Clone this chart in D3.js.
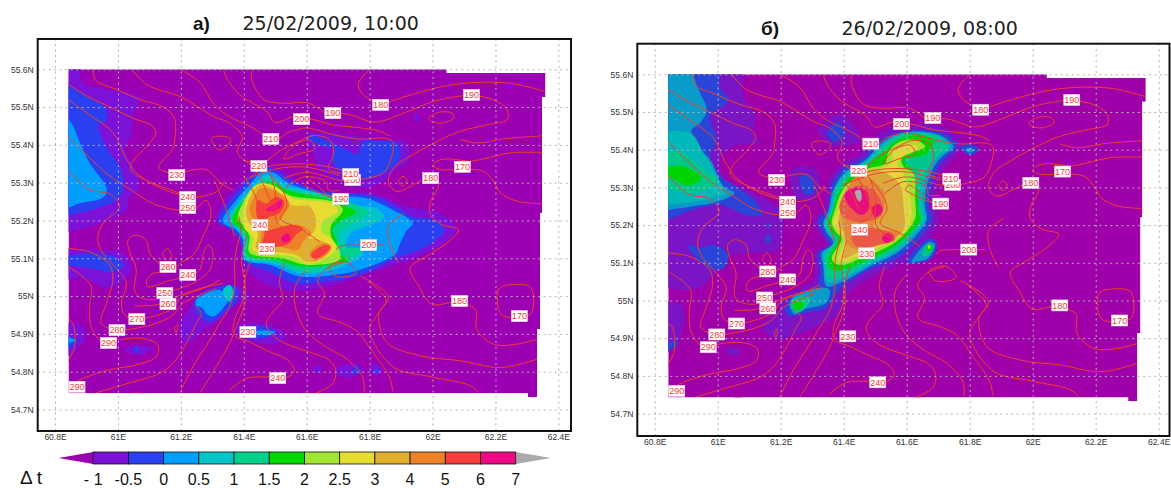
<!DOCTYPE html>
<html>
<head>
<meta charset="utf-8">
<script src="https://cdn.jsdelivr.net/npm/d3@7"></script>
<style>
    html, body { margin: 0; padding: 0; background: #fff; }
    svg { display: block; }
</style>
</head>
<body>
<svg id="chart" width="1171" height="488"></svg>
<script>
// axis ticks
const lonTicks = [60.8, 61, 61.2, 61.4, 61.6, 61.8, 62, 62.2, 62.4];
const lonTickLabels = ["60.8E", "61E", "61.2E", "61.4E", "61.6E", "61.8E", "62E", "62.2E", "62.4E"];
const latTicks = [54.7, 54.8, 54.9, 55, 55.1, 55.2, 55.3, 55.4, 55.5, 55.6];
const latTickLabels = ["54.7N", "54.8N", "54.9N", "55N", "55.1N", "55.2N", "55.3N", "55.4N", "55.5N", "55.6N"];

// colour bar
const barLabels = ["- 1", "-0.5", "0", "0.5", "1", "1.5", "2", "2.5", "3", "4", "5", "6", "7"];

// edge of the model domain, lon/lat
const mapOutline = [[60.843, 55.6], [62.045, 55.6], [62.045, 55.59], [62.359, 55.59], [62.359, 55.527], [62.348, 55.527],
    [62.348, 55.22], [62.342, 55.22], [62.342, 54.913], [62.332, 54.913], [62.332, 54.733], [62.303, 54.733],
    [62.303, 54.743], [60.843, 54.743]];

// delta-t areas, 25/02/2009 10:00. l = index of the class, 0 is -1..-0.5, 12 is above 7
const fieldA = [
    { l: 0, p: [[60.8, 55.65], [60.88, 55.65], [60.885, 55.567], [60.943, 55.55], [61.028, 55.537], [61.07, 55.523], [61.05, 55.484], [61.044, 55.431], [61.023, 55.387], [61.065, 55.317], [61.06, 55.277], [61.037, 55.262], [61.026, 55.227], [60.93, 55.19], [60.84, 55.17], [60.8, 55.17]] },
    { l: 1, p: [[60.8, 55.59], [60.843, 55.559], [60.9, 55.528], [60.964, 55.493], [60.959, 55.462], [60.938, 55.453], [60.943, 55.431], [60.975, 55.378], [61.007, 55.343], [61.017, 55.303], [61.016, 55.28], [60.995, 55.254], [60.931, 55.232], [60.84, 55.214], [60.8, 55.21]] },
    { l: 2, p: [[60.8, 55.47], [60.843, 55.466], [60.88, 55.405], [60.91, 55.352], [60.964, 55.285], [60.955, 55.262], [60.878, 55.245], [60.8, 55.23]] },
    { l: 0, p: [[60.8, 55.13], [60.84, 55.126], [60.94, 55.122], [61.016, 55.113], [61.042, 55.069], [60.973, 55.02], [60.92, 55.038], [60.878, 55.047], [60.8, 55.047]] },
    { l: 1, p: [[60.8, 55.11], [60.84, 55.108], [60.93, 55.113], [61.0, 55.1], [61.016, 55.078], [60.984, 55.064], [60.92, 55.073], [60.84, 55.082], [60.8, 55.082]] },
    { l: 0, p: [[60.8, 54.93], [60.84, 54.93], [60.885, 54.92], [60.895, 54.885], [60.87, 54.86], [60.84, 54.842], [60.8, 54.84]] },
    { l: 1, p: [[60.8, 54.895], [60.84, 54.893], [60.873, 54.884], [60.86, 54.87], [60.84, 54.86], [60.8, 54.86]] },
    { l: 2, p: [[60.8, 54.893], [60.84, 54.891], [60.865, 54.883], [60.84, 54.875], [60.8, 54.875]] },
    { l: 0, p: [[61.02, 54.858], [61.058, 54.87], [61.106, 54.862], [61.07, 54.844]] },
    { l: 1, p: [[61.05, 54.858], [61.058, 54.866], [61.066, 54.858], [61.058, 54.848]] },
    // blob south-west of the plume
    { l: 0, p: [[61.196, 54.919], [61.239, 54.981], [61.26, 55.007], [61.323, 55.029], [61.387, 55.025], [61.419, 54.998], [61.366, 54.972], [61.323, 54.937], [61.27, 54.91], [61.217, 54.875]] },
    { l: 1, p: [[61.244, 54.99], [61.323, 55.025], [61.376, 55.025], [61.376, 54.985], [61.334, 54.954], [61.29, 54.932], [61.26, 54.946], [61.244, 54.968]] },
    { l: 2, p: [[61.249, 54.99], [61.323, 55.016], [61.35, 54.994], [61.334, 54.968], [61.302, 54.946], [61.28, 54.954], [61.27, 54.968], [61.249, 54.976]] },
    { l: 3, p: [[61.334, 55.016], [61.355, 55.029], [61.37, 55.007], [61.355, 54.985], [61.34, 54.998]] },
    // spot under the 230 label
    { l: 0, p: [[61.376, 54.918], [61.47, 54.927], [61.535, 54.896], [61.503, 54.874], [61.407, 54.887]] },
    { l: 1, p: [[61.386, 54.909], [61.46, 54.92], [61.5, 54.905], [61.47, 54.89], [61.407, 54.892]] },
    { l: 2, p: [[61.43, 54.905], [61.46, 54.909], [61.5, 54.905], [61.475, 54.896]] },
    { l: 0, p: [[61.62, 54.808], [61.635, 54.818], [61.65, 54.805], [61.635, 54.795]] },
    { l: 0, p: [[61.69, 54.805], [61.757, 54.822], [61.78, 54.805], [61.74, 54.785], [61.7, 54.79]] },
    { l: 0, p: [[61.8, 54.81], [61.82, 54.822], [61.84, 54.805], [61.82, 54.788]] },
    { l: 1, p: [[61.745, 54.798], [61.757, 54.815], [61.77, 54.798]] },
    { l: 1, p: [[61.815, 54.8], [61.822, 54.81], [61.83, 54.8]] },
    { l: 0, p: [[61.95, 55.485], [61.96, 55.465], [61.94, 55.462]] },
    // blue patch north of the plume
    { l: 0, p: [[61.6, 55.423], [61.685, 55.431], [61.823, 55.414], [61.918, 55.405], [61.924, 55.361], [61.887, 55.335], [61.834, 55.3], [61.77, 55.286], [61.65, 55.33], [61.62, 55.38]] },
    { l: 1, p: [[61.605, 55.42], [61.642, 55.4], [61.69, 55.389], [61.68, 55.365], [61.7, 55.335], [61.76, 55.31], [61.823, 55.317], [61.876, 55.343], [61.898, 55.37], [61.887, 55.405], [61.82, 55.41], [61.78, 55.41], [61.76, 55.375], [61.72, 55.39], [61.66, 55.412], [61.615, 55.43]] },
    // main plume
    { l: 0, p: [[61.312, 55.201], [61.397, 55.307], [61.46, 55.342], [61.513, 55.338], [61.577, 55.298], [61.683, 55.272], [61.81, 55.272], [61.916, 55.237], [62.022, 55.219], [62.075, 55.175], [62.0, 55.122], [61.895, 55.087], [61.768, 55.052], [61.662, 55.025], [61.524, 55.017], [61.418, 55.061], [61.386, 55.105], [61.397, 55.166]] },
    { l: 1, p: [[61.317, 55.197], [61.386, 55.281], [61.46, 55.338], [61.498, 55.333], [61.556, 55.303], [61.662, 55.276], [61.736, 55.272], [61.821, 55.263], [61.895, 55.232], [61.937, 55.21], [62.0, 55.201], [62.038, 55.175], [61.98, 55.131], [61.884, 55.1], [61.768, 55.056], [61.662, 55.039], [61.566, 55.034], [61.471, 55.069], [61.407, 55.091], [61.386, 55.149], [61.354, 55.179]] },
    { l: 2, p: [[61.333, 55.197], [61.376, 55.254], [61.418, 55.294], [61.46, 55.329], [61.498, 55.325], [61.545, 55.298], [61.683, 55.267], [61.789, 55.259], [61.874, 55.228], [61.937, 55.193], [61.916, 55.171], [61.895, 55.135], [61.884, 55.113], [61.768, 55.069], [61.683, 55.056], [61.577, 55.052], [61.482, 55.083], [61.402, 55.096], [61.397, 55.149], [61.376, 55.175]] },
    { l: 3, p: [[61.354, 55.206], [61.381, 55.245], [61.423, 55.285], [61.466, 55.32], [61.492, 55.316], [61.535, 55.294], [61.683, 55.263], [61.757, 55.241], [61.821, 55.232], [61.847, 55.21], [61.789, 55.184], [61.741, 55.166], [61.725, 55.131], [61.778, 55.113], [61.725, 55.083], [61.662, 55.065], [61.577, 55.061], [61.492, 55.087], [61.402, 55.1], [61.402, 55.149], [61.381, 55.175]] },
    { l: 4, p: [[61.36, 55.206], [61.386, 55.245], [61.429, 55.281], [61.471, 55.311], [61.492, 55.303], [61.535, 55.285], [61.683, 55.263], [61.768, 55.237], [61.794, 55.219], [61.757, 55.197], [61.704, 55.166], [61.715, 55.131], [61.789, 55.127], [61.736, 55.1], [61.672, 55.078], [61.588, 55.065], [61.498, 55.091], [61.407, 55.105], [61.407, 55.153], [61.386, 55.179]] },
    { l: 5, p: [[61.365, 55.206], [61.392, 55.245], [61.434, 55.281], [61.487, 55.303], [61.535, 55.281], [61.683, 55.254], [61.725, 55.237], [61.757, 55.223], [61.704, 55.197], [61.683, 55.179], [61.694, 55.149], [61.71, 55.109], [61.736, 55.096], [61.672, 55.083], [61.588, 55.078], [61.503, 55.096], [61.413, 55.109], [61.413, 55.153], [61.392, 55.179], [61.365, 55.193]] },
    { l: 6, p: [[61.381, 55.206], [61.402, 55.254], [61.439, 55.294], [61.492, 55.294], [61.545, 55.267], [61.683, 55.25], [61.715, 55.228], [61.678, 55.188], [61.678, 55.157], [61.704, 55.122], [61.704, 55.096], [61.598, 55.083], [61.524, 55.1], [61.418, 55.115], [61.418, 55.157], [61.402, 55.184]] },
    { l: 7, p: [[61.397, 55.219], [61.418, 55.272], [61.455, 55.298], [61.498, 55.289], [61.556, 55.259], [61.678, 55.245], [61.699, 55.223], [61.651, 55.197], [61.646, 55.171], [61.678, 55.153], [61.694, 55.127], [61.651, 55.096], [61.598, 55.087], [61.556, 55.105], [61.429, 55.122], [61.429, 55.157], [61.402, 55.179]] },
    { l: 8, p: [[61.407, 55.223], [61.423, 55.267], [61.45, 55.294], [61.503, 55.281], [61.551, 55.241], [61.609, 55.237], [61.63, 55.201], [61.619, 55.166], [61.582, 55.157], [61.635, 55.149], [61.678, 55.131], [61.641, 55.096], [61.598, 55.091], [61.566, 55.109], [61.439, 55.127], [61.445, 55.166], [61.418, 55.193]] },
    { l: 9, p: [[61.418, 55.232], [61.434, 55.263], [61.455, 55.285], [61.513, 55.272], [61.545, 55.245], [61.524, 55.21], [61.508, 55.188], [61.577, 55.188], [61.614, 55.166], [61.588, 55.144], [61.572, 55.122], [61.513, 55.131], [61.455, 55.131], [61.455, 55.175], [61.434, 55.197]] },
    { l: 9, p: [[61.609, 55.113], [61.651, 55.14], [61.678, 55.131], [61.667, 55.113], [61.625, 55.094]] },
    { l: 10, p: [[61.439, 55.232], [61.445, 55.254], [61.471, 55.245], [61.503, 55.263], [61.529, 55.25], [61.513, 55.219], [61.476, 55.206], [61.471, 55.175], [61.503, 55.179], [61.556, 55.188], [61.588, 55.179], [61.566, 55.162], [61.545, 55.14], [61.513, 55.131], [61.46, 55.131], [61.466, 55.175], [61.445, 55.201]] },
    { l: 10, p: [[61.614, 55.109], [61.657, 55.135], [61.674, 55.131], [61.662, 55.115], [61.625, 55.098]] },
    { l: 11, p: [[61.471, 55.228], [61.498, 55.245], [61.519, 55.254], [61.519, 55.237], [61.492, 55.223]] },
    { l: 11, p: [[61.519, 55.153], [61.54, 55.166], [61.547, 55.149], [61.529, 55.142]] }
];

// delta-t areas, 26/02/2009 08:00
const fieldB = [
    { l: 0, p: [[60.8, 55.65], [61.071, 55.65], [61.082, 55.541], [61.119, 55.493], [61.114, 55.444], [61.135, 55.418], [61.05, 55.409], [61.008, 55.374], [61.018, 55.33], [61.1, 55.29], [61.2, 55.24], [61.207, 55.188], [61.191, 55.135], [61.122, 55.126], [61.032, 55.117], [60.984, 55.064], [60.942, 55.034], [60.878, 55.029], [60.84, 55.034], [60.8, 55.034]] },
    { l: 1, p: [[60.8, 55.65], [61.006, 55.65], [61.006, 55.567], [61.034, 55.532], [60.976, 55.488], [60.997, 55.427], [60.976, 55.383], [61.008, 55.33], [61.058, 55.302], [61.122, 55.262], [61.138, 55.227], [61.09, 55.227], [61.005, 55.254], [60.92, 55.24], [60.84, 55.214], [60.8, 55.21]] },
    { l: 2, p: [[60.8, 55.65], [60.92, 55.65], [60.923, 55.6], [60.939, 55.559], [60.965, 55.506], [60.944, 55.471], [60.918, 55.453], [60.934, 55.409], [60.976, 55.374], [61.018, 55.303], [61.053, 55.285], [61.0, 55.262], [60.92, 55.25], [60.84, 55.24], [60.8, 55.235]] },
    { l: 3, p: [[60.8, 55.43], [60.912, 55.444], [60.955, 55.391], [61.018, 55.3], [61.03, 55.285], [60.98, 55.272], [60.905, 55.26], [60.84, 55.255], [60.8, 55.25]] },
    { l: 4, p: [[60.8, 55.4], [60.843, 55.396], [60.891, 55.391], [60.955, 55.347], [61.0, 55.32], [60.984, 55.302], [60.91, 55.284], [60.84, 55.298], [60.8, 55.305]] },
    { l: 5, p: [[60.8, 55.36], [60.843, 55.356], [60.891, 55.356], [60.949, 55.325], [60.905, 55.305], [60.843, 55.33], [60.8, 55.34]] },
    { l: 1, p: [[60.905, 55.148], [60.947, 55.139], [60.984, 55.148], [61.032, 55.122], [61.021, 55.086], [60.974, 55.086], [60.931, 55.113]] },
    { l: 1, p: [[61.15, 55.163], [61.16, 55.176], [61.17, 55.163], [61.16, 55.15]] },
    { l: 1, p: [[61.155, 55.2], [61.16, 55.207], [61.167, 55.2], [61.16, 55.192]] },
    { l: 0, p: [[61.236, 55.347], [61.305, 55.352], [61.326, 55.303], [61.305, 55.268], [61.252, 55.268]] },
    { l: 1, p: [[61.262, 55.33], [61.294, 55.33], [61.305, 55.286], [61.278, 55.281], [61.262, 55.303]] },
    { l: 0, p: [[61.32, 55.457], [61.39, 55.493], [61.453, 55.427], [61.368, 55.409], [61.326, 55.435]] },
    { l: 1, p: [[61.347, 55.444], [61.384, 55.475], [61.4, 55.435], [61.368, 55.422]] },
    { l: 0, p: [[60.8, 55.0], [60.84, 54.998], [60.888, 54.985], [60.883, 54.906], [60.84, 54.862], [60.8, 54.86]] },
    { l: 1, p: [[60.8, 54.89], [60.84, 54.89], [60.878, 54.888], [60.845, 54.867], [60.8, 54.865]] },
    { l: 0, p: [[61.021, 54.866], [61.053, 54.875], [61.074, 54.866], [61.053, 54.853]] },
    { l: 0, p: [[61.143, 54.932], [61.186, 54.968], [61.217, 55.012], [61.345, 55.056], [61.408, 55.047], [61.387, 54.968], [61.313, 54.932], [61.239, 54.906], [61.175, 54.902]] },
    { l: 1, p: [[61.212, 54.976], [61.239, 55.012], [61.323, 55.038], [61.36, 55.051], [61.371, 55.012], [61.345, 54.981], [61.281, 54.968], [61.228, 54.959]] },
    { l: 2, p: [[61.228, 54.99], [61.244, 55.012], [61.329, 55.034], [61.355, 55.029], [61.345, 54.994], [61.27, 54.976], [61.244, 54.963]] },
    { l: 4, p: [[61.233, 54.99], [61.249, 55.007], [61.292, 55.007], [61.281, 54.981], [61.249, 54.968]] },
    { l: 5, p: [[61.239, 54.99], [61.254, 54.998], [61.276, 54.992], [61.26, 54.976], [61.244, 54.978]] },
    { l: 1, p: [[61.77, 55.405], [61.8, 55.415], [61.83, 55.4], [61.8, 55.385]] },
    { l: 2, p: [[61.785, 55.4], [61.8, 55.405], [61.815, 55.398], [61.8, 55.392]] },
    // small blob east of the plume
    { l: 1, p: [[61.6, 55.099], [61.627, 55.135], [61.68, 55.165], [61.696, 55.148], [61.68, 55.113], [61.632, 55.099]] },
    { l: 2, p: [[61.615, 55.101], [61.643, 55.135], [61.672, 55.156], [61.69, 55.148], [61.669, 55.113], [61.627, 55.103]] },
    { l: 4, p: [[61.648, 55.12], [61.669, 55.15], [61.685, 55.143], [61.669, 55.12]] },
    { l: 5, p: [[61.662, 55.143], [61.672, 55.15], [61.682, 55.14], [61.669, 55.13]] },
    { l: 6, p: [[61.667, 55.145], [61.672, 55.148], [61.676, 55.14], [61.669, 55.137]] },
    // main plume
    { l: 0, p: [[61.305, 55.21], [61.34, 55.25], [61.35, 55.315], [61.39, 55.36], [61.455, 55.39], [61.51, 55.44], [61.575, 55.462], [61.67, 55.466], [61.74, 55.45], [61.775, 55.41], [61.745, 55.375], [61.72, 55.35], [61.7, 55.31], [61.69, 55.258], [61.7, 55.21], [61.655, 55.15], [61.595, 55.105], [61.5, 55.068], [61.41, 55.02], [61.37, 55.0], [61.31, 55.02], [61.31, 55.085], [61.305, 55.125], [61.34, 55.148], [61.32, 55.18]] },
    { l: 1, p: [[61.319, 55.209], [61.351, 55.245], [61.362, 55.306], [61.399, 55.35], [61.463, 55.377], [61.516, 55.425], [61.579, 55.447], [61.664, 55.451], [61.728, 55.438], [61.759, 55.407], [61.728, 55.381], [61.701, 55.355], [61.68, 55.311], [61.669, 55.258], [61.68, 55.214], [61.637, 55.161], [61.579, 55.117], [61.484, 55.082], [61.399, 55.038], [61.378, 55.02], [61.325, 55.029], [61.325, 55.086], [61.319, 55.126], [61.357, 55.148], [61.335, 55.179]] },
    { l: 2, p: [[61.335, 55.205], [61.351, 55.236], [61.367, 55.293], [61.404, 55.341], [61.468, 55.372], [61.526, 55.421], [61.579, 55.443], [61.664, 55.447], [61.717, 55.434], [61.749, 55.407], [61.717, 55.385], [61.69, 55.359], [61.664, 55.306], [61.659, 55.249], [61.664, 55.214], [61.627, 55.17], [61.569, 55.126], [61.484, 55.091], [61.399, 55.051], [61.346, 55.038], [61.335, 55.091], [61.33, 55.126], [61.367, 55.152], [61.346, 55.179]] },
    { l: 3, p: [[61.337, 55.202], [61.357, 55.238], [61.369, 55.289], [61.406, 55.337], [61.468, 55.368], [61.528, 55.416], [61.579, 55.441], [61.659, 55.445], [61.712, 55.432], [61.738, 55.406], [61.706, 55.385], [61.68, 55.357], [61.653, 55.304], [61.653, 55.245], [61.659, 55.214], [61.622, 55.174], [61.566, 55.13], [61.482, 55.095], [61.396, 55.058], [61.349, 55.049], [61.337, 55.093], [61.335, 55.124], [61.369, 55.155], [61.351, 55.179]] },
    { l: 4, p: [[61.341, 55.201], [61.362, 55.24], [61.372, 55.284], [61.41, 55.333], [61.468, 55.363], [61.531, 55.412], [61.579, 55.438], [61.653, 55.443], [61.706, 55.429], [61.728, 55.403], [61.696, 55.385], [61.669, 55.355], [61.643, 55.302], [61.648, 55.24], [61.653, 55.214], [61.616, 55.179], [61.563, 55.135], [61.478, 55.099], [61.394, 55.064], [61.351, 55.06], [61.341, 55.095], [61.341, 55.121], [61.372, 55.157], [61.357, 55.179]] },
    { l: 5, p: [[61.351, 55.201], [61.367, 55.24], [61.383, 55.284], [61.42, 55.328], [61.473, 55.355], [61.537, 55.403], [61.579, 55.429], [61.643, 55.438], [61.685, 55.425], [61.664, 55.39], [61.59, 55.372], [61.611, 55.355], [61.632, 55.302], [61.637, 55.24], [61.643, 55.214], [61.6, 55.17], [61.553, 55.139], [61.468, 55.104], [61.399, 55.082], [61.362, 55.082], [61.351, 55.104], [61.357, 55.121], [61.383, 55.165], [61.367, 55.179]] },
    { l: 6, p: [[61.362, 55.205], [61.372, 55.24], [61.394, 55.289], [61.425, 55.319], [61.478, 55.35], [61.531, 55.363], [61.542, 55.394], [61.579, 55.421], [61.632, 55.425], [61.659, 55.407], [61.622, 55.394], [61.584, 55.377], [61.59, 55.355], [61.622, 55.337], [61.627, 55.267], [61.627, 55.218], [61.59, 55.174], [61.542, 55.143], [61.457, 55.113], [61.399, 55.095], [61.372, 55.099], [61.362, 55.113], [61.394, 55.165], [61.378, 55.179]] },
    { l: 7, p: [[61.367, 55.205], [61.383, 55.245], [61.399, 55.284], [61.431, 55.319], [61.478, 55.341], [61.531, 55.355], [61.553, 55.363], [61.558, 55.399], [61.59, 55.412], [61.627, 55.412], [61.637, 55.403], [61.59, 55.385], [61.569, 55.363], [61.59, 55.337], [61.606, 55.293], [61.616, 55.231], [61.6, 55.187], [61.537, 55.152], [61.452, 55.121], [61.399, 55.104], [61.383, 55.108], [61.404, 55.165], [61.383, 55.187]] },
    { l: 8, p: [[61.383, 55.209], [61.394, 55.249], [61.41, 55.284], [61.441, 55.319], [61.489, 55.346], [61.537, 55.337], [61.579, 55.306], [61.59, 55.249], [61.59, 55.187], [61.542, 55.157], [61.452, 55.13], [61.399, 55.113], [61.41, 55.161], [61.394, 55.187]] },
    { l: 9, p: [[61.388, 55.249], [61.41, 55.297], [61.447, 55.328], [61.489, 55.319], [61.531, 55.284], [61.526, 55.24], [61.494, 55.196], [61.579, 55.179], [61.547, 55.161], [61.447, 55.135], [61.41, 55.152], [61.399, 55.196], [61.394, 55.218]] },
    { l: 10, p: [[61.386, 55.247], [61.404, 55.284], [61.436, 55.304], [61.484, 55.3], [61.524, 55.253], [61.521, 55.227], [61.484, 55.212], [61.441, 55.209], [61.399, 55.223]] },
    { l: 10, p: [[61.431, 55.187], [61.489, 55.192], [61.521, 55.187], [61.558, 55.177], [61.563, 55.161], [61.516, 55.148], [61.441, 55.143], [61.425, 55.165]] },
    { l: 11, p: [[61.402, 55.28], [61.436, 55.3], [61.473, 55.289], [61.478, 55.24], [61.457, 55.227], [61.425, 55.245]] },
    { l: 11, p: [[61.489, 55.245], [61.51, 55.256], [61.524, 55.24], [61.5, 55.221]] },
    { l: 11, p: [[61.521, 55.165], [61.539, 55.179], [61.556, 55.168], [61.537, 55.152]] },
    { l: 12, p: [[61.436, 55.289], [61.452, 55.293], [61.457, 55.271], [61.45, 55.262], [61.439, 55.275]] }
];

// isolines, the same in both panels
const isolines = [
    [[60.92, 55.6], [60.93, 55.57], [60.985, 55.55], [61.07, 55.52], [61.145, 55.5], [61.18, 55.47], [61.18, 55.41], [61.175, 55.39], [61.13, 55.34], [61.175, 55.325], [61.28, 55.335], [61.325, 55.3], [61.367, 55.28]],
    [[60.843, 55.56], [60.9, 55.53], [60.975, 55.5], [61.05, 55.47], [61.11, 55.45], [61.12, 55.43], [61.09, 55.395], [61.05, 55.36], [61.04, 55.335], [61.08, 55.31], [61.155, 55.285], [61.22, 55.265]],
    [[61.044, 55.6], [61.092, 55.559], [61.198, 55.528], [61.251, 55.502], [61.304, 55.475], [61.357, 55.457], [61.395, 55.42], [61.38, 55.38], [61.42, 55.35], [61.45, 55.346]],
    [[61.198, 55.6], [61.261, 55.565], [61.303, 55.51], [61.346, 55.479], [61.431, 55.444], [61.483, 55.416], [61.515, 55.418], [61.536, 55.431], [61.568, 55.44], [61.6, 55.445], [61.685, 55.427], [61.77, 55.415], [61.844, 55.418], [61.873, 55.409], [61.87, 55.37], [61.844, 55.326], [61.77, 55.308]],
    [[61.335, 55.6], [61.346, 55.576], [61.388, 55.532], [61.47, 55.49], [61.5, 55.46], [61.558, 55.474], [61.616, 55.468], [61.685, 55.453], [61.77, 55.445], [61.833, 55.436], [61.865, 55.423]],
    [[61.425, 55.6], [61.425, 55.574], [61.462, 55.521], [61.526, 55.51], [61.6, 55.512], [61.637, 55.497], [61.658, 55.484], [61.685, 55.484], [61.738, 55.48], [61.801, 55.462], [61.834, 55.462], [61.908, 55.484], [62.004, 55.515], [62.078, 55.528], [62.125, 55.531], [62.194, 55.519], [62.237, 55.493], [62.237, 55.467], [62.173, 55.453], [62.088, 55.436], [62.004, 55.405], [61.929, 55.37], [61.876, 55.339], [61.86, 55.299], [61.887, 55.277], [61.94, 55.295], [61.972, 55.308], [62.0, 55.312], [62.019, 55.295], [61.993, 55.247], [61.993, 55.216], [62.03, 55.189], [62.083, 55.176], [62.046, 55.141], [61.982, 55.106], [61.929, 55.075], [61.956, 55.027], [61.998, 54.978], [62.067, 54.983], [62.136, 54.965], [62.141, 54.912], [62.194, 54.873], [62.269, 54.873], [62.332, 54.886]],
    [[61.801, 55.6], [61.764, 55.563], [61.775, 55.537], [61.812, 55.515], [61.836, 55.506], [61.866, 55.515], [61.951, 55.537], [62.035, 55.555], [62.131, 55.565], [62.247, 55.563], [62.359, 55.541]],
    [[62.351, 55.424], [62.226, 55.416], [62.141, 55.405], [62.088, 55.415]],
    [[62.351, 55.38], [62.247, 55.379], [62.173, 55.365], [62.12, 55.357], [62.051, 55.363], [62.014, 55.357], [62.001, 55.345], [62.025, 55.335], [62.099, 55.335], [62.163, 55.33], [62.194, 55.304], [62.216, 55.273], [62.269, 55.251], [62.351, 55.244]],
    // west side
    [[60.843, 55.519], [60.911, 55.479], [60.986, 55.431], [61.023, 55.369], [61.06, 55.325], [61.134, 55.286], [61.2, 55.268], [61.249, 55.262], [61.313, 55.276], [61.339, 55.306]],
    [[60.843, 55.422], [60.9, 55.374], [60.975, 55.317], [61.049, 55.277], [61.111, 55.245], [61.196, 55.227], [61.249, 55.232], [61.28, 55.254], [61.296, 55.218], [61.27, 55.157], [61.239, 55.108], [61.196, 55.086], [61.175, 55.067], [61.111, 55.06], [61.092, 55.042], [61.095, 55.025], [61.16, 55.04], [61.223, 55.054], [61.26, 55.069], [61.27, 55.108], [61.286, 55.135], [61.3, 55.122], [61.292, 55.069], [61.239, 55.034], [61.18, 55.016], [61.15, 55.007], [61.122, 54.991], [61.069, 54.997], [61.053, 55.016], [61.058, 55.073], [61.037, 55.117], [61.032, 55.148], [61.053, 55.161], [61.09, 55.148], [61.101, 55.113], [61.133, 55.086], [61.159, 55.078]],
    [[60.843, 55.33], [60.911, 55.281], [60.975, 55.27], [61.005, 55.236], [60.952, 55.192], [60.936, 55.152], [60.952, 55.113], [61.0, 55.069], [61.027, 55.034], [61.011, 54.981], [61.021, 54.95], [61.06, 54.94], [61.111, 54.946], [61.175, 54.968], [61.201, 54.998], [61.27, 55.02], [61.323, 55.042]],
    [[60.841, 55.126], [60.91, 55.117], [60.974, 55.082], [60.984, 55.042], [60.963, 54.981], [60.947, 54.928], [60.997, 54.91], [61.058, 54.915], [61.122, 54.928], [61.175, 54.95], [61.207, 54.981], [61.313, 55.02]],
    [[60.841, 55.078], [60.889, 55.051], [60.915, 55.025], [60.91, 54.972], [60.915, 54.919], [60.947, 54.88], [60.97, 54.877], [61.0, 54.884], [61.08, 54.888], [61.127, 54.871], [61.122, 54.84], [61.058, 54.818], [60.974, 54.805], [60.878, 54.778], [60.841, 54.757]],
    [[60.841, 54.941], [60.857, 54.928], [60.862, 54.866], [60.841, 54.827]],
    [[61.053, 54.974], [61.122, 54.977], [61.2, 55.003], [61.26, 55.02], [61.334, 55.034]],
    [[61.307, 55.306], [61.345, 55.227], [61.371, 55.157]],
    // running south from the plume
    [[60.926, 54.743], [61.027, 54.768], [61.133, 54.796], [61.18, 54.827], [61.223, 54.884], [61.249, 54.928], [61.265, 54.954], [61.244, 54.976]],
    [[61.196, 54.743], [61.239, 54.814], [61.292, 54.884], [61.323, 54.928], [61.355, 54.972], [61.371, 55.025], [61.371, 55.086], [61.376, 55.122], [61.39, 55.17], [61.385, 55.21]],
    [[61.26, 54.743], [61.313, 54.814], [61.355, 54.875], [61.376, 54.919], [61.403, 54.981], [61.403, 55.042], [61.392, 55.095], [61.41, 55.16]],
    [[61.354, 54.751], [61.407, 54.782], [61.482, 54.786], [61.54, 54.786], [61.561, 54.804], [61.54, 54.83], [61.471, 54.857], [61.418, 54.879], [61.37, 54.896], [61.37, 54.936], [61.397, 54.989], [61.402, 55.04], [61.42, 55.09]],
    [[61.625, 54.742], [61.683, 54.769], [61.692, 54.804], [61.672, 54.83], [61.609, 54.852], [61.535, 54.874], [61.492, 54.896], [61.471, 54.927], [61.492, 54.958], [61.524, 54.989], [61.513, 55.04], [61.53, 55.09]],
    [[61.782, 54.742], [61.778, 54.786], [61.725, 54.835], [61.662, 54.865], [61.598, 54.909], [61.567, 54.962], [61.561, 55.015], [61.572, 55.04], [61.6, 55.07]],
    [[61.874, 54.747], [61.863, 54.786], [61.81, 54.852], [61.757, 54.909], [61.704, 54.931], [61.64, 54.949], [61.635, 54.962], [61.657, 55.006], [61.635, 55.04], [61.66, 55.07], [61.72, 55.09]],
    [[61.77, 55.053], [61.86, 54.998], [61.829, 54.952], [61.855, 54.877], [61.961, 54.842], [62.088, 54.829], [62.216, 54.811], [62.332, 54.833]],
    [[61.794, 55.04], [61.853, 54.989], [61.826, 54.953], [61.8, 54.91], [61.874, 54.813], [61.999, 54.786], [62.118, 54.764], [62.146, 54.745]],
    [[61.908, 55.218], [61.86, 55.185], [61.866, 55.132], [61.892, 55.088]],
    [[61.694, 55.122], [61.704, 55.131], [61.778, 55.135], [61.85, 55.135]],
    // over the plume
    [[61.399, 55.359], [61.463, 55.355], [61.516, 55.385], [61.569, 55.407], [61.622, 55.425], [61.675, 55.412], [61.685, 55.377], [61.669, 55.337], [61.717, 55.324]],
    [[61.42, 55.315], [61.473, 55.341], [61.579, 55.35], [61.675, 55.341], [61.717, 55.332]],
    [[61.399, 55.306], [61.505, 55.337], [61.6, 55.341], [61.706, 55.319]],
    [[61.526, 55.311], [61.6, 55.328], [61.706, 55.306], [61.738, 55.306]],
    [[61.531, 55.284], [61.59, 55.315], [61.664, 55.302], [61.669, 55.28], [61.706, 55.28]],
    [[61.595, 55.293], [61.606, 55.306], [61.664, 55.271], [61.685, 55.258]],
    [[61.595, 55.293], [61.622, 55.28], [61.685, 55.258]],
    [[61.473, 55.333], [61.526, 55.275], [61.537, 55.24], [61.516, 55.205], [61.579, 55.179], [61.643, 55.143]],
    [[61.441, 55.333], [61.473, 55.275], [61.489, 55.227], [61.447, 55.205]],
    [[61.399, 55.319], [61.431, 55.275], [61.447, 55.24]],
    [[61.484, 55.324], [61.5, 55.275], [61.5, 55.223], [61.505, 55.196], [61.558, 55.161]],
    // short pieces on the bottom edge
    [[61.05, 54.743], [61.075, 54.743]],
    [[61.63, 54.743], [61.645, 54.743]]
];

// closed isolines
const isolineRings = [
    [[61.988, 55.471], [62.019, 55.486], [62.062, 55.484], [62.067, 55.471], [62.03, 55.458], [61.998, 55.462]],
    [[61.892, 55.304], [61.906, 55.317], [61.919, 55.306], [61.903, 55.291]],
    [[61.298, 55.417], [61.33, 55.423], [61.359, 55.415], [61.346, 55.396], [61.32, 55.387]],
    [[61.143, 55.108], [61.156, 55.126], [61.17, 55.108], [61.159, 55.091]],
    [[61.18, 54.915], [61.19, 54.924], [61.185, 54.902]],
    [[61.527, 55.363], [61.558, 55.398], [61.611, 55.412], [61.627, 55.39], [61.579, 55.377]],
    [[61.672, 55.078], [61.725, 55.091], [61.757, 55.061], [61.694, 55.052]],
    [[62.21, 55.018], [62.226, 55.027], [62.306, 55.027], [62.319, 55.009], [62.319, 54.965], [62.306, 54.949], [62.226, 54.947], [62.21, 54.965]]
];

// isoline labels: lon, lat, value
const isolineLabels = [
    [61.835, 55.506, 180], [61.683, 55.484, 190], [62.124, 55.532, 190], [61.584, 55.468, 200], [61.486, 55.416, 210],
    [61.448, 55.344, 220], [61.187, 55.32, 230], [61.222, 55.262, 240], [61.222, 55.233, 250], [61.746, 55.307, 200],
    [61.74, 55.323, 210], [61.994, 55.312, 180], [62.095, 55.342, 170], [61.708, 55.257, 190], [61.451, 55.188, 240],
    [61.473, 55.125, 230], [61.797, 55.135, 200], [61.159, 55.077, 280], [61.222, 55.056, 240], [61.149, 55.008, 250],
    [61.159, 54.979, 260], [61.06, 54.939, 270], [60.997, 54.91, 280], [60.97, 54.876, 290], [61.413, 54.905, 230],
    [62.086, 54.987, 180], [62.276, 54.947, 170], [61.508, 54.783, 240], [60.87, 54.76, 290]
];

const classColors = ["#7c12d8", "#2a40f0", "#009fff", "#00c4c8", "#00d08c", "#00d800", "#a0e632", "#e6dc32", "#e2ae2e", "#ee8228", "#f63e3e", "#ee0a84", "#aaaaaa"];
const classColorsB = ["#7a14c4", "#2a44d8", "#0a9cc8", "#00b8b8", "#00c88c", "#00d400", "#a8e030", "#e0d83c", "#dca83c", "#e68638", "#ea5848", "#e6107c", "#aaaaaa"];

const panels = [
    { field: fieldA, colors: classColors, base: "#9b00b2", xr: [55, 558.4], yr: [409.5, 69.3], frame: { l: 37.7, r: 571, t: 39, b: 431 },
      tag: "а)", tagX: 193, date: "25/02/2009, 10:00", dateX: 242.5, titleY: 30 },
    { field: fieldB, colors: classColorsB, base: "#a000aa", xr: [654.7, 1158.7], yr: [413.6, 74.3], frame: { l: 637.3, r: 1169.5, t: 43.7, b: 436 },
      tag: "б)", tagX: 761, date: "26/02/2009, 08:00", dateX: 841.5, titleY: 35 }
];

const svg = d3.select("#chart");
const sans = "'Liberation Sans', Arial, sans-serif";

panels.forEach((panel, i) => {
    const f = panel.frame;
    const x = d3.scaleLinear().domain([60.8, 62.4]).range(panel.xr);
    const y = d3.scaleLinear().domain([54.7, 55.6]).range(panel.yr);
    const g = svg.append("g");

    const area = d3.line().x(d => x(d[0])).y(d => y(d[1])).curve(d3.curveCatmullRomClosed.alpha(0.5));
    const line = d3.line().x(d => x(d[0])).y(d => y(d[1])).curve(d3.curveCatmullRom.alpha(0.5));
    const edge = d3.line().x(d => x(d[0])).y(d => y(d[1]));

    g.append("clipPath").attr("id", "domain" + i)
        .append("path").attr("d", edge(mapOutline) + "Z");

    const map = g.append("g").attr("clip-path", `url(#domain${i})`);

    map.append("path")
        .attr("d", edge(mapOutline) + "Z")
        .attr("fill", panel.base);

    // keep the reading order inside one class, lower classes first
    map.selectAll("path.area")
        .data(d3.range(0, 13).flatMap(l => panel.field.filter(d => d.l === l)))
        .enter().append("path")
        .attr("class", "area")
        .attr("d", d => area(d.p))
        .attr("fill", d => panel.colors[d.l]);

    map.selectAll("path.iso")
        .data(isolines)
        .enter().append("path")
        .attr("class", "iso")
        .attr("d", line)
        .attr("fill", "none")
        .attr("stroke", "#f0402a")
        .attr("stroke-width", 1);

    map.selectAll("path.ring")
        .data(isolineRings)
        .enter().append("path")
        .attr("class", "ring")
        .attr("d", area)
        .attr("fill", "none")
        .attr("stroke", "#f0402a")
        .attr("stroke-width", 1);

    // axes, the long ticks are the dotted grid
    const xAxis = g.append("g")
        .attr("transform", `translate(0,${f.b})`)
        .call(d3.axisBottom(x).tickValues(lonTicks).tickFormat((d, j) => lonTickLabels[j])
            .tickSizeInner(-(f.b - f.t)).tickSizeOuter(0).tickPadding(3));
    const yAxis = g.append("g")
        .attr("transform", `translate(${f.l},0)`)
        .call(d3.axisLeft(y).tickValues(latTicks).tickFormat((d, j) => latTickLabels[j])
            .tickSizeInner(-(f.r - f.l)).tickSizeOuter(0).tickPadding(4));

    [xAxis, yAxis].forEach(a => {
        a.select(".domain").remove();
        a.selectAll(".tick line")
            .attr("stroke", "#b4b4b4")
            .attr("stroke-width", 1)
            .attr("stroke-dasharray", "2,3.5");
        a.selectAll(".tick text")
            .attr("fill", "#333")
            .style("font-family", sans)
            .style("font-size", "8.5px");
    });

    // isoline labels
    const labels = g.selectAll("g.lab")
        .data(isolineLabels)
        .enter().append("g")
        .attr("class", "lab")
        .attr("transform", d => `translate(${x(d[0])},${y(d[1])})`);
    labels.append("rect")
        .attr("x", -8).attr("y", -5.5).attr("width", 16).attr("height", 11)
        .attr("fill", "#fff")
        .attr("stroke", "#f3d6ea")
        .attr("stroke-width", 0.6);
    labels.append("text")
        .attr("text-anchor", "middle")
        .attr("y", 3.2)
        .attr("fill", "#f03a3a")
        .style("font-family", sans)
        .style("font-size", "9px")
        .text(d => d[2]);

    g.append("rect")
        .attr("x", f.l).attr("y", f.t)
        .attr("width", f.r - f.l).attr("height", f.b - f.t)
        .attr("fill", "none")
        .attr("stroke", "#111")
        .attr("stroke-width", 2);

    // titles
    g.append("text")
        .attr("x", panel.tagX).attr("y", panel.titleY)
        .attr("fill", "#111")
        .style("font-family", sans)
        .style("font-weight", "bold")
        .style("font-size", "19px")
        .text(panel.tag);
    g.append("text")
        .attr("x", panel.dateX).attr("y", panel.titleY)
        .attr("fill", "#222")
        .style("font-family", "'DejaVu Sans', sans-serif")
        .style("font-size", "19px")
        .text(panel.date);
});

// colour bar under the first panel
const barX = d3.scalePoint().domain(barLabels).range([93.2, 515.7]);
const barTop = 452;
const barBottom = 464;
const bar = svg.append("g");

bar.append("path")
    .attr("d", d3.line()([[barX(barLabels[0]), barTop], [58.5, 458], [barX(barLabels[0]), barBottom]]) + "Z")
    .attr("fill", "#9b00b2");
bar.append("path")
    .attr("d", d3.line()([[barX(barLabels[12]), barTop], [551, 458], [barX(barLabels[12]), barBottom]]) + "Z")
    .attr("fill", "#aaaaaa");

bar.selectAll("rect")
    .data(barLabels.slice(0, -1))
    .enter().append("rect")
    .attr("x", d => barX(d))
    .attr("y", barTop)
    .attr("width", barX.step())
    .attr("height", barBottom - barTop)
    .attr("fill", (d, i) => classColors[i])
    .attr("stroke", "#111")
    .attr("stroke-width", 0.8);

bar.selectAll("text.tick")
    .data(barLabels)
    .enter().append("text")
    .attr("class", "tick")
    .attr("x", d => barX(d))
    .attr("y", 485)
    .attr("text-anchor", "middle")
    .attr("fill", "#111")
    .style("font-family", sans)
    .style("font-size", "16px")
    .text(d => d);

bar.append("text")
    .attr("x", 20).attr("y", 484)
    .attr("fill", "#111")
    .style("font-family", sans)
    .style("font-size", "19px")
    .style("letter-spacing", "4px")
    .text("Δt");
</script>
</body>
</html>
